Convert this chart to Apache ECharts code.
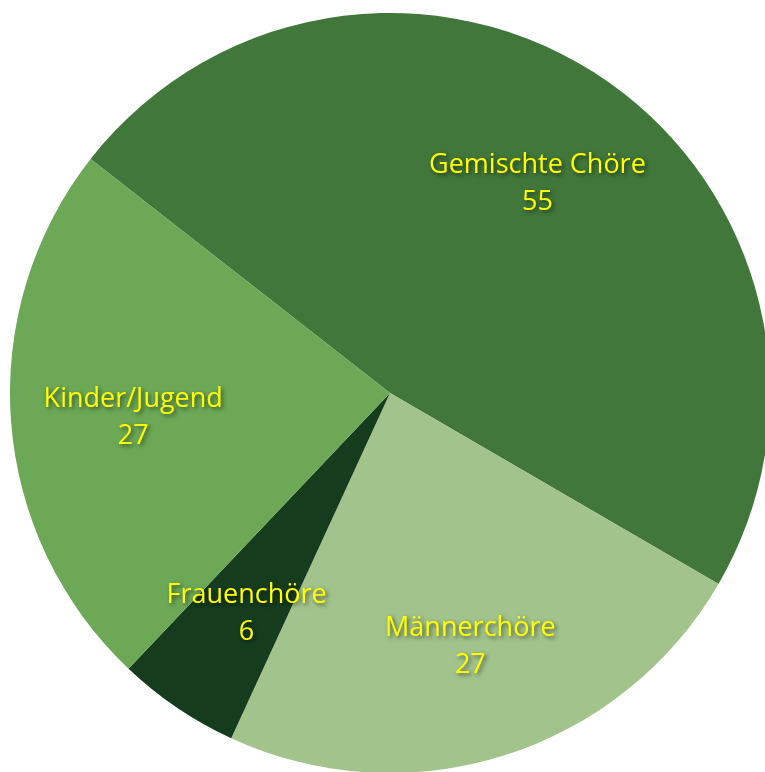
<!DOCTYPE html>
<html>
<head>
<meta charset="utf-8">
<script src="https://cdn.jsdelivr.net/npm/echarts@6/dist/echarts.min.js"></script>
<style>
html, body { margin: 0; padding: 0; background: #fff; }
#chart { width: 765px; height: 772px; }
</style>
</head>
<body>
<div id="chart"></div>
<script>
const kategorien = ['Gemischte Chöre', 'Männerchöre', 'Frauenchöre', 'Kinder/Jugend'];
const anzahl = [55, 27, 6, 27];
const farben = ['#41773a', '#a2c38b', '#163c1e', '#6ca856'];

const daten = kategorien.map((name, i) => ({ name, value: anzahl[i], itemStyle: { color: farben[i] } }));

const mitte = ['390px', '393px'];
const radius = 380;

echarts.init(document.getElementById('chart')).setOption({
    animation: false,
    series: [
        {
            type: 'pie', center: mitte, radius: [0, radius], startAngle: 142, clockwise: true,
            label: { show: false }, labelLine: { show: false },
            emphasis: { disabled: true },
            data: daten
        },
        {
            // nur Beschriftungen, weiter außen als die Mitte
            type: 'pie', center: mitte, radius: [radius * 0.35, radius], startAngle: 142, clockwise: true,
            silent: true,
            itemStyle: { color: 'transparent' },
            labelLine: { show: false },
            label: {
                show: true, position: 'inside',
                formatter: '{b}\n{c}',
                offset: [2, 6],
                color: '#ffff00', fontFamily: 'Open Sans', fontSize: 27, lineHeight: 37,
                textShadowColor: 'rgba(0,0,0,0.55)', textShadowBlur: 4, textShadowOffsetX: 2, textShadowOffsetY: 2
            },
            data: kategorien.map((name, i) => ({ name, value: anzahl[i] }))
        }
    ]
});
</script>
</body>
</html>
